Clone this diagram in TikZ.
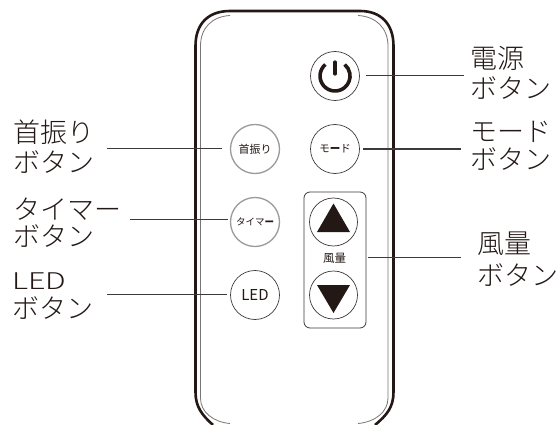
\documentclass[tikz,border=0pt]{standalone}
\usepackage{fontspec}
\setmainfont{Noto Sans CJK JP}
\newfontfamily\jplight[UprightFont=* Light]{Noto Sans CJK JP}
\definecolor{ink}{HTML}{231815}
\definecolor{lead}{HTML}{3E3A39}
\definecolor{greyring}{HTML}{9C9A9A}
\tikzset{
  shell/.style={draw=ink,line width=2.6pt},
  innershell/.style={draw=lead!70,line width=0.8pt},
  btn/.style={circle,draw=lead,line width=0.7pt,minimum size=49pt,inner sep=0pt,font=\fontsize{10.5}{10.5}\selectfont,text=ink},
  greybtn/.style={btn,draw=greyring,line width=1.3pt},
  arrowbtn/.style={circle,draw=lead,line width=0.7pt,minimum size=48pt,inner sep=0pt},
  leadline/.style={draw=lead,line width=1.1pt},
  lbl/.style={align=left,inner sep=0pt,anchor=west,text=ink,font=\jplight\fontsize{27}{27}\selectfont},
}
\begin{document}
\begin{tikzpicture}[x=1pt,y=-1pt]
\useasboundingbox (0,0) rectangle (557,425);
\fill[white] (0,0) rectangle (557,425);
% body
\draw[shell] (213,425) .. controls (202,415) and (195.5,407) .. (195.5,392) -- (195.5,46)
  .. controls (195.5,24) and (208,11) .. (230,11) -- (360,11)
  .. controls (381,11) and (393.5,24) .. (393.5,46) -- (393.5,392)
  .. controls (393.5,407) and (387,415) .. (375,425);
\draw[innershell] (230,15.5) .. controls (212,16.5) and (200.5,28) .. (200.5,46) -- (200.5,398)
  .. controls (200.5,412) and (213,422) .. (230,423.5);
\draw[innershell] (358,15.5) .. controls (376,16.5) and (388,28) .. (388,46) -- (388,398)
  .. controls (388,412) and (375,422) .. (358,423.5);
% buttons
\node[btn,minimum size=49pt] (power) at (335,76) {};
\draw[ink,line width=3.6pt] (325.4,64.5) arc[start angle=130,end angle=410,radius=15pt];
\draw[ink,line width=3.2pt,line cap=round] (335,62) -- (335,74);
\node[greybtn,font=\fontsize{11}{11}\selectfont] (swing) at (255,149) {首振り};
\node[btn] (mode) at (335,149) {モ\textbf{ー}ド};
\node[greybtn,font=\fontsize{9.5}{9.5}\selectfont] (timer) at (255,222) {タイマ\textbf{ー}};
\node[btn,font=\fontsize{15}{15}\selectfont] (led) at (255,295) {LED};
\node[draw=lead,line width=0.8pt,rounded corners=6pt,minimum width=62pt,minimum height=136pt,inner sep=0pt] (fanbox) at (335,260) {};
\node[arrowbtn] (up) at (333.5,222) {};
\node[arrowbtn] (down) at (333.5,295) {};
\fill[ink] (333.5,203.5) -- (350,232) -- (317,232) -- cycle;
\fill[ink] (333.5,313) -- (350,285) -- (317,285) -- cycle;
\node[inner sep=0pt,text=ink,font=\fontsize{11.5}{11.5}\selectfont] (fanlbl) at (334.5,258) {風量};
% leader ends
\coordinate (epower) at (464,75.7);
\coordinate (emode) at (461,149);
\coordinate (efan) at (461,257.5);
\coordinate (eswing) at (107,148.5);
\coordinate (etimer) at (130,219.5);
\coordinate (eled) at (107,294.5);
\draw[leadline,shorten >=6.5pt] (epower) -- (epower -| power.east);
\draw[leadline,shorten >=3.5pt] (emode) -- (emode -| mode.east);
\draw[leadline,shorten >=2pt] (efan) -- (efan -| fanbox.east);
\draw[leadline,shorten >=7.5pt] (eswing) -- (eswing -| swing.west);
\draw[leadline,shorten >=1.5pt] (etimer) -- (etimer -| timer.west);
\draw[leadline,shorten >=3.5pt] (eled) -- (eled -| led.west);
% labels
\node[lbl] (tpower) at (470,73) {電源\\[3pt]ボタン};
\node[lbl] (tmode) at (470,146) {モード\\[1pt]ボタン};
\node[lbl] (tfan) at (477,259) {風量\\[5pt]ボタン};
\node[lbl] (tswing) at (13,147) {首振り\\[3pt]ボタン};
\node[lbl] (ttimer) at (13,223) {タイマー\\[0pt]ボタン};
\node[lbl] (tled) at (12,296) {{\fontsize{23}{23}\selectfont\scalebox{1.33}[1]{LED}}\\[2pt]ボタン};
\end{tikzpicture}
\end{document}
